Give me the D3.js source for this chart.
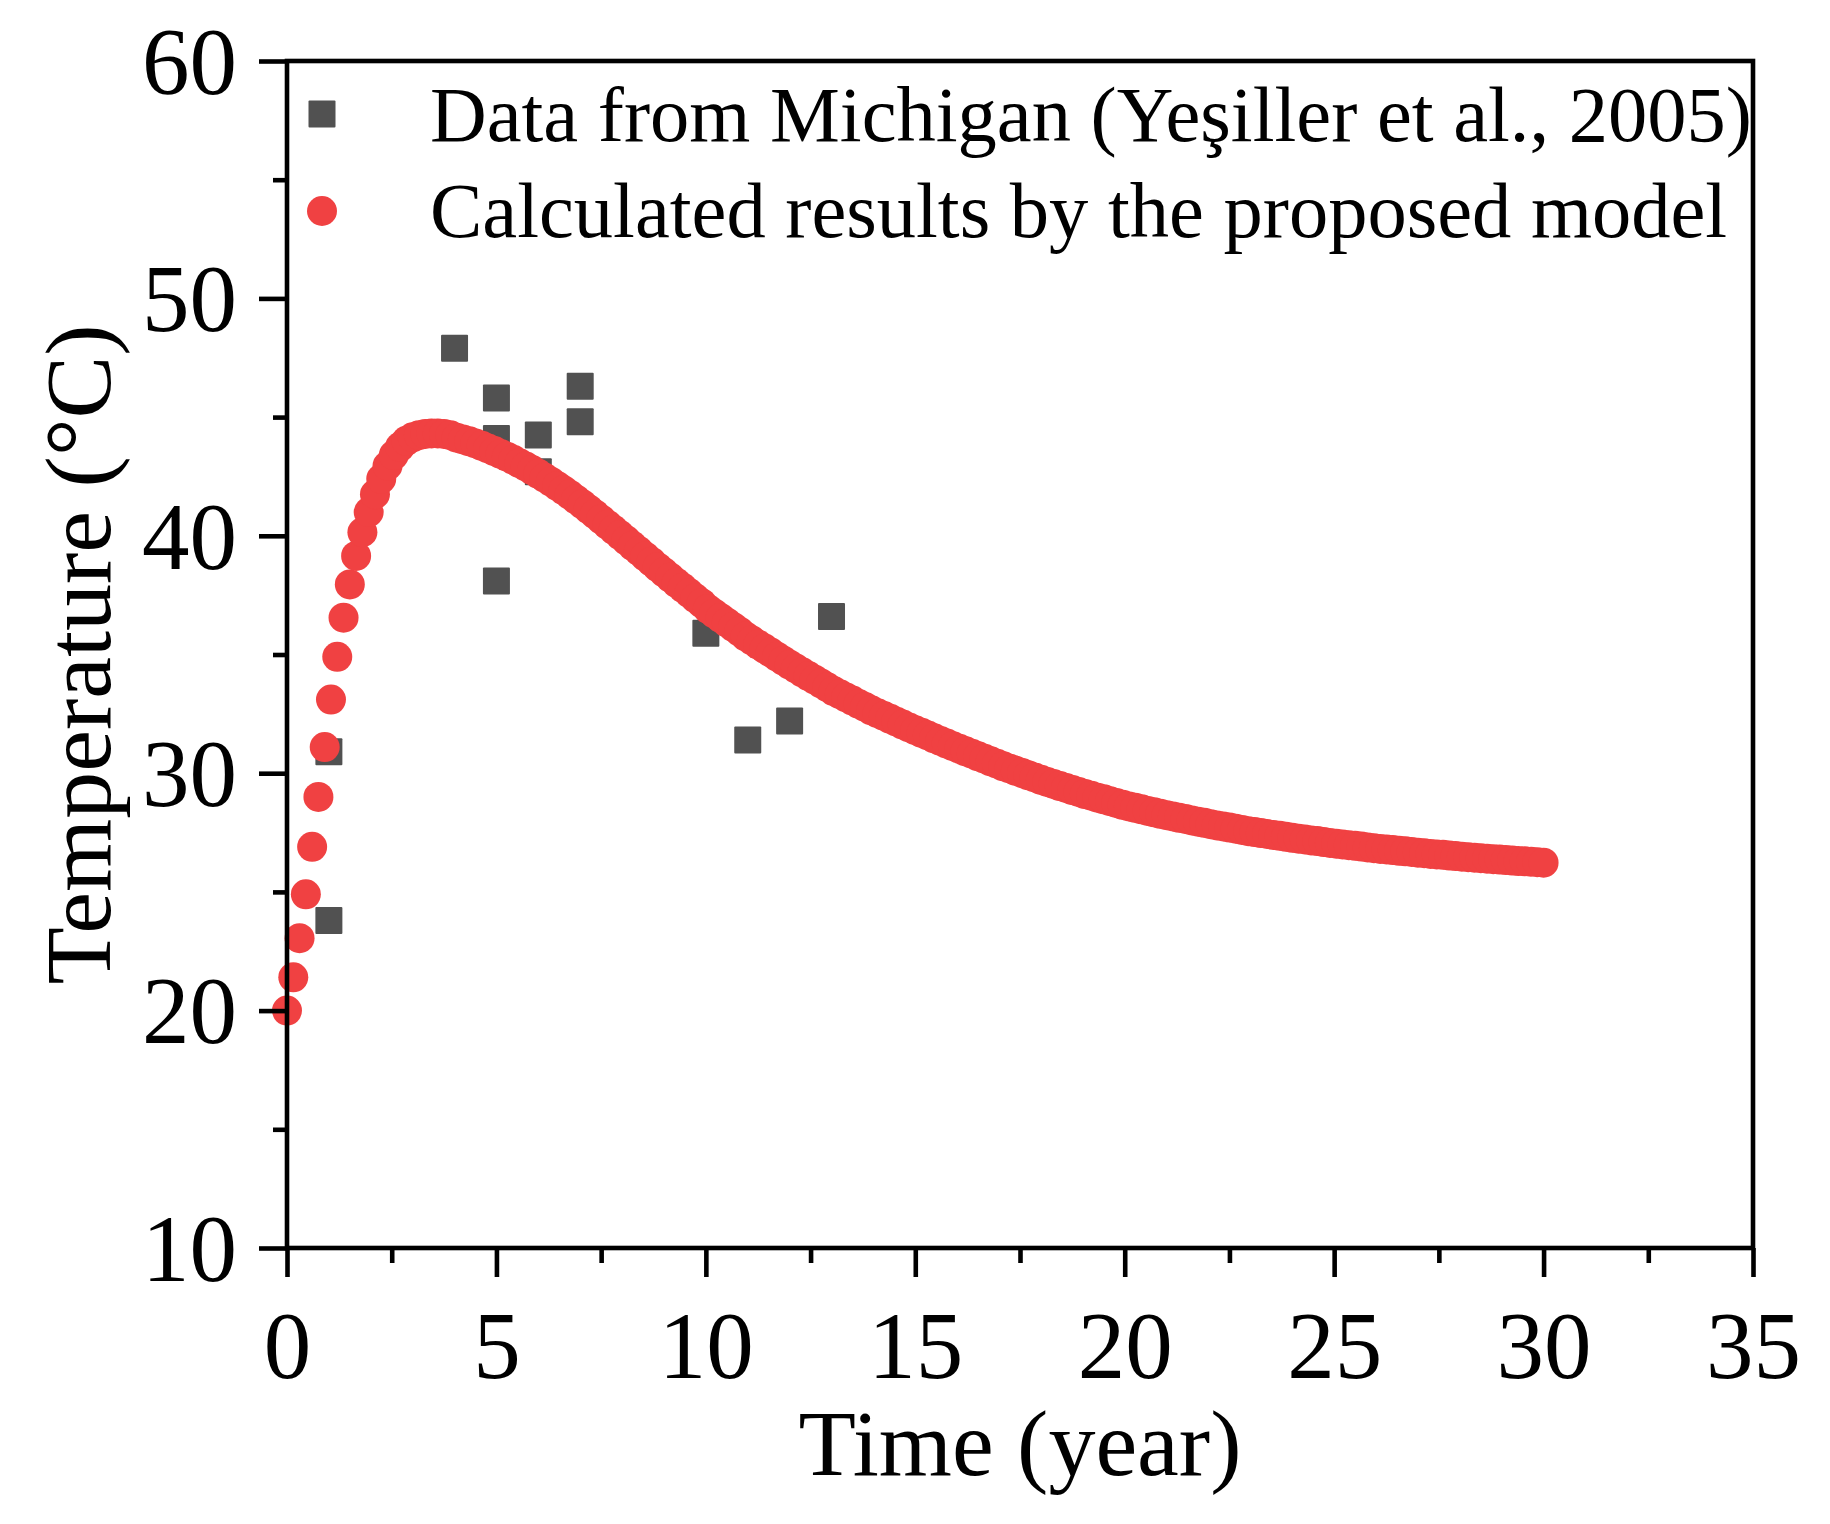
<!DOCTYPE html>
<html>
<head>
<meta charset="utf-8">
<script src="https://cdn.jsdelivr.net/npm/d3@7"></script>
<style>
  body { margin: 0; background: #fff; }
  text { font-family: "Liberation Serif", "Times New Roman", serif; fill: #000; }
</style>
</head>
<body>
<div id="chart"></div>
<script>
// measured data (squares)
var fieldYears = [1, 1, 4, 5, 5, 5, 6, 6, 7, 7, 10, 11, 12, 13];
var fieldTemps = [30.9, 23.8, 47.9, 45.8, 44.1, 38.1, 44.25, 42.7, 46.3, 44.8, 35.9, 31.4, 32.2, 36.6];

// model results (red dots)
var modelYears = [
  0, 0.15, 0.3, 0.45, 0.6, 0.75, 0.9, 1.05, 1.2, 1.35,
  1.5, 1.65, 1.8, 1.95, 2.1, 2.25, 2.4, 2.55, 2.7, 2.85,
  3, 3.15, 3.3, 3.45, 3.6, 3.75, 3.9, 4.05, 4.2, 4.35,
  4.5, 4.65, 4.8, 4.95, 5.1, 5.25, 5.4, 5.55, 5.7, 5.85,
  6, 6.15, 6.3, 6.45, 6.6, 6.75, 6.9, 7.05, 7.2, 7.35,
  7.5, 7.65, 7.8, 7.95, 8.1, 8.25, 8.4, 8.55, 8.7, 8.85,
  9, 9.15, 9.3, 9.45, 9.6, 9.75, 9.9, 10.05, 10.2, 10.35,
  10.5, 10.65, 10.8, 10.95, 11.1, 11.25, 11.4, 11.55, 11.7, 11.85,
  12, 12.15, 12.3, 12.45, 12.6, 12.75, 12.9, 13.05, 13.2, 13.35,
  13.5, 13.65, 13.8, 13.95, 14.1, 14.25, 14.4, 14.55, 14.7, 14.85,
  15, 15.15, 15.3, 15.45, 15.6, 15.75, 15.9, 16.05, 16.2, 16.35,
  16.5, 16.65, 16.8, 16.95, 17.1, 17.25, 17.4, 17.55, 17.7, 17.85,
  18, 18.15, 18.3, 18.45, 18.6, 18.75, 18.9, 19.05, 19.2, 19.35,
  19.5, 19.65, 19.8, 19.95, 20.1, 20.25, 20.4, 20.55, 20.7, 20.85,
  21, 21.15, 21.3, 21.45, 21.6, 21.75, 21.9, 22.05, 22.2, 22.35,
  22.5, 22.65, 22.8, 22.95, 23.1, 23.25, 23.4, 23.55, 23.7, 23.85,
  24, 24.15, 24.3, 24.45, 24.6, 24.75, 24.9, 25.05, 25.2, 25.35,
  25.5, 25.65, 25.8, 25.95, 26.1, 26.25, 26.4, 26.55, 26.7, 26.85,
  27, 27.15, 27.3, 27.45, 27.6, 27.75, 27.9, 28.05, 28.2, 28.35,
  28.5, 28.65, 28.8, 28.95, 29.1, 29.25, 29.4, 29.55, 29.7, 29.85,
  30
];
var modelTemps = [
  20.0, 21.4, 23.05, 24.9, 26.9, 29.0, 31.1, 33.1, 34.9, 36.55,
  37.95, 39.15, 40.15, 41.0, 41.75, 42.4, 42.95, 43.4, 43.75, 44.0,
  44.15, 44.24, 44.29, 44.31, 44.31, 44.29, 44.24, 44.13, 44.06, 43.98,
  43.89, 43.79, 43.68, 43.57, 43.45, 43.33, 43.2, 43.06, 42.92, 42.77,
  42.61, 42.45, 42.28, 42.1, 41.92, 41.73, 41.53, 41.33, 41.12, 40.91,
  40.69, 40.47, 40.25, 40.03, 39.81, 39.58, 39.36, 39.13, 38.91, 38.68,
  38.46, 38.24, 38.02, 37.81, 37.59, 37.37, 37.16, 36.92, 36.73, 36.54,
  36.35, 36.16, 35.97, 35.76, 35.59, 35.42, 35.25, 35.08, 34.91, 34.74,
  34.57, 34.41, 34.25, 34.09, 33.94, 33.78, 33.62, 33.46, 33.33, 33.19,
  33.06, 32.92, 32.79, 32.65, 32.53, 32.41, 32.29, 32.17, 32.05, 31.93,
  31.81, 31.7, 31.59, 31.47, 31.36, 31.25, 31.14, 31.03, 30.92, 30.82,
  30.71, 30.61, 30.5, 30.4, 30.29, 30.2, 30.1, 30.01, 29.91, 29.82,
  29.72, 29.63, 29.55, 29.46, 29.38, 29.29, 29.21, 29.12, 29.05, 28.97,
  28.9, 28.82, 28.75, 28.67, 28.6, 28.54, 28.48, 28.41, 28.35, 28.29,
  28.23, 28.18, 28.12, 28.07, 28.01, 27.96, 27.91, 27.85, 27.8, 27.76,
  27.71, 27.66, 27.61, 27.56, 27.52, 27.48, 27.44, 27.4, 27.36, 27.32,
  27.28, 27.24, 27.21, 27.17, 27.14, 27.1, 27.06, 27.03, 27.0, 26.97,
  26.94, 26.91, 26.87, 26.84, 26.81, 26.79, 26.76, 26.73, 26.71, 26.68,
  26.65, 26.63, 26.6, 26.58, 26.56, 26.53, 26.51, 26.48, 26.46, 26.44,
  26.42, 26.4, 26.38, 26.36, 26.34, 26.32, 26.3, 26.29, 26.27, 26.25,
  26.23
];

var xMajorTicks = [0, 5, 10, 15, 20, 25, 30, 35];
var xMinorTicks = [2.5, 7.5, 12.5, 17.5, 22.5, 27.5, 32.5];
var yMajorTicks = [10, 20, 30, 40, 50, 60];
var yMinorTicks = [15, 25, 35, 45, 55];

var legendLabels = ["Data from Michigan (Yeşiller et al., 2005)", "Calculated results by the proposed model"];

var svgWidth = 1830;
var svgHeight = 1524;

// plot box in page pixels
var margin = { top: 61, right: 77, bottom: 276, left: 287 };
var width = svgWidth - margin.left - margin.right;
var height = svgHeight - margin.top - margin.bottom;

var squareColor = "#515151";
var dotColor = "#f04142";
var lineW = 4.6;

var svg = d3.select("#chart")
  .append("svg")
  .attr("width", svgWidth)
  .attr("height", svgHeight);

var chartGroup = svg.append("g")
  .attr("transform", `translate(${margin.left}, ${margin.top})`);

var xScale = d3.scaleLinear().domain([0, 35]).range([0, width]);
var yScale = d3.scaleLinear().domain([10, 60]).range([height, 0]);

// data squares first, red dots drawn on top
var sq = 27;
chartGroup.append("g").selectAll("rect")
  .data(fieldYears)
  .enter()
  .append("rect")
  .attr("x", (d, i) => xScale(d) - sq / 2)
  .attr("y", (d, i) => yScale(fieldTemps[i]) - sq / 2)
  .attr("width", sq)
  .attr("height", sq)
  .attr("rx", 1)
  .attr("fill", squareColor);

chartGroup.append("g").selectAll("circle")
  .data(modelYears)
  .enter()
  .append("circle")
  .attr("cx", (d, i) => xScale(d))
  .attr("cy", (d, i) => yScale(modelTemps[i]))
  .attr("r", 15)
  .attr("fill", dotColor);

// axes: ticks on left and bottom only, pointing out
function styleAxis(g) {
  g.select(".domain").remove();
  g.selectAll("line").attr("stroke", "#000").attr("stroke-width", lineW);
  g.selectAll("text").style("font-size", "95px").attr("fill", "#000");
}

chartGroup.append("g")
  .attr("transform", `translate(0, ${height})`)
  .call(d3.axisBottom(xScale).tickValues(xMajorTicks).tickSize(29).tickPadding(34).tickFormat(d3.format("d")))
  .call(styleAxis);

chartGroup.append("g")
  .attr("transform", `translate(0, ${height})`)
  .call(d3.axisBottom(xScale).tickValues(xMinorTicks).tickSize(15).tickFormat(""))
  .call(styleAxis);

chartGroup.append("g")
  .call(d3.axisLeft(yScale).tickValues(yMajorTicks).tickSize(28).tickPadding(22).tickFormat(d3.format("d")))
  .call(styleAxis)
  .selectAll("text").attr("dy", "0.34em");

chartGroup.append("g")
  .call(d3.axisLeft(yScale).tickValues(yMinorTicks).tickSize(14).tickFormat(""))
  .call(styleAxis);

// frame
chartGroup.append("rect")
  .attr("x", 0)
  .attr("y", 0)
  .attr("width", width)
  .attr("height", height)
  .attr("fill", "none")
  .attr("stroke", "#000")
  .attr("stroke-width", lineW);

// axis titles
svg.append("text")
  .attr("x", margin.left + width / 2)
  .attr("y", 1475)
  .attr("text-anchor", "middle")
  .style("font-size", "94px")
  .text("Time (year)");

svg.append("text")
  .attr("transform", `translate(110, ${margin.top + height / 2}) rotate(-90)`)
  .attr("text-anchor", "middle")
  .style("font-size", "94px")
  .text("Temperature (°C)");

// legend
var legend = svg.append("g");
legend.append("rect")
  .attr("x", 322 - sq / 2)
  .attr("y", 114 - sq / 2)
  .attr("width", sq)
  .attr("height", sq)
  .attr("rx", 1)
  .attr("fill", squareColor);
legend.append("circle")
  .attr("cx", 322)
  .attr("cy", 211)
  .attr("r", 15)
  .attr("fill", dotColor);
legend.selectAll("text")
  .data(legendLabels)
  .enter()
  .append("text")
  .attr("x", 430)
  .attr("y", (d, i) => 141 + i * 96)
  .style("font-size", "78.5px")
  .text(d => d);
</script>
</body>
</html>
